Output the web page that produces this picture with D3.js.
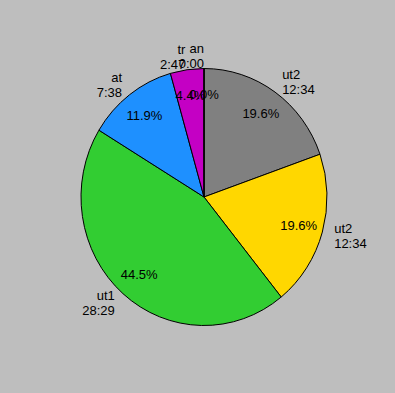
<!DOCTYPE html>
<html>
<head>
<meta charset="utf-8">
<script src="https://cdn.jsdelivr.net/npm/d3@7"></script>
<style>
html,body{margin:0;padding:0;background:#bebebe;}
svg{display:block;}
text{font-family:"Liberation Sans",Arial,Helvetica,sans-serif;font-size:13px;fill:#000;}
</style>
</head>
<body>
<svg id="chart" width="395" height="393"></svg>
<script>
const categories = ["ut2", "ut2", "ut1", "at", "tr", "an"];
const timeLabels = ["12:34", "12:34", "28:29", "7:38", "2:47", "0:00"];
const percents = [19.6, 19.6, 44.5, 11.9, 4.4, 0.0];
const colors = ["#808080", "#ffd700", "#32cd32", "#1e90ff", "#c400c4", "#ff0000"];

const W = 395, H = 393;
const cx = 204, cy = 197, rx = 123, ry = 128.5;
const svg = d3.select("#chart");
svg.append("rect").attr("width", W).attr("height", H).attr("fill", "#bebebe");

const data = categories.map((c, i) => ({cat: c, time: timeLabels[i], pct: percents[i], color: colors[i]}));
const pie = d3.pie().sort(null).value(d => d.pct).startAngle(0).endAngle(2 * Math.PI);
const arcs = pie(data);
const arc = d3.arc().innerRadius(0).outerRadius(rx);

const g = svg.append("g").attr("transform", `translate(${cx},${cy}) scale(1,${ry / rx})`);
g.selectAll("path").data(arcs).join("path")
  .attr("d", arc)
  .attr("fill", d => d.data.color)
  .attr("stroke", "#000")
  .attr("stroke-width", 1)
  .attr("vector-effect", "non-scaling-stroke");

function pos(a, f) {
  return [cx + f * rx * Math.sin(a), cy - f * ry * Math.cos(a)];
}

// percentage labels
svg.selectAll("text.pct").data(arcs).join("text")
  .attr("class", "pct")
  .attr("x", d => pos((d.startAngle + d.endAngle) / 2, 0.8)[0])
  .attr("y", d => pos((d.startAngle + d.endAngle) / 2, 0.8)[1])
  .attr("text-anchor", "middle")
  .attr("dominant-baseline", "central")
  .text(d => d.data.pct.toFixed(1) + "%");

// outer labels
arcs.forEach(d => {
  const a = (d.startAngle + d.endAngle) / 2;
  const [x, y] = pos(a, 1.1);
  const anchor = Math.sin(a) < 0 ? "end" : "start";
  const t = svg.append("text").attr("text-anchor", anchor);
  t.append("tspan").attr("x", x).attr("y", y - 7.5).attr("dominant-baseline", "central").text(d.data.cat);
  t.append("tspan").attr("x", x).attr("y", y + 7.5).attr("dominant-baseline", "central").text(d.data.time);
});
</script>
</body>
</html>
